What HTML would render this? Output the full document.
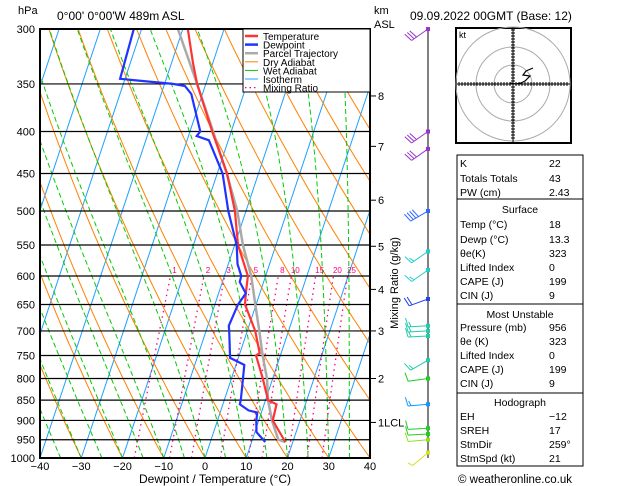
<!DOCTYPE html>
<html><head><meta charset="utf-8">
<style>
body{margin:0;background:#fff;}
svg{display:block;font-family:"Liberation Sans",sans-serif;}
.t{font-size:11px;fill:#000;}
</style></head>
<body>
<svg id="c" width="629" height="486" viewBox="0 0 629 486">
<defs><clipPath id="pc"><rect x="40" y="29" width="330" height="429"/></clipPath></defs>
<g id="bg" clip-path="url(#pc)"></g>
<g id="iso"></g>
<g id="prof" clip-path="url(#pc)"></g>
<rect x="40" y="29" width="330" height="429" fill="none" stroke="#000" stroke-width="2"/>
<g id="axes"></g>
<g id="legend"></g>
<g id="wind"></g>
<g id="hodo"></g>
<g id="tbl"></g>
</svg>
<script>
const presLevels=[300,350,400,450,500,550,600,650,700,750,800,850,900,950,1000];
const tempTicks=[-40,-30,-20,-10,0,10,20,30,40];
const tempP=[956,900,860,850,800,750,745,700,650,630,600,550,500,450,400,350,330,300];
const tempT=[18.2,13.4,13.0,10.6,7.6,4.1,4.8,1.9,-2.7,-3.4,-4.3,-9.2,-12.7,-17.6,-24.6,-32.1,-34.8,-38.8];
const dewP=[956,930,900,880,875,860,850,800,770,755,700,690,650,630,610,600,580,550,500,450,410,405,400,360,352,350,345,300];
const dewT=[13.3,10.4,9.4,9.0,6.7,4.1,4.0,2.8,2.0,-2.0,-4.4,-4.9,-4.4,-3.4,-5.8,-5.9,-7.8,-9.5,-14.3,-18.7,-24.7,-28,-27.5,-32.7,-34.9,-38,-51.2,-51.9];
const parP=[956,950,900,850,800,750,700,650,600,550,500,450,400,350,300];
const parT=[18.2,16.3,13.2,10.6,8.6,5.7,2.9,-0.2,-3.5,-8,-12.1,-17.7,-24.4,-32.1,-41.2];
const mixRatios=[1,2,3,5,8,10,15,20,25];
const mixLabels=["1","2","3","5","8","10","15","20","25"];
const kmLabels=["8","7","6","5","4","3","2","1"];
const kmP=[362,417,485,552,623,700,800,905];
const windP=[300,400,420,500,560,590,640,690,700,710,760,800,860,920,935,950,985];
const windAng=[35,35,35,30,35,35,20,3,3,3,30,8,5,3,3,5,40];
const windSpd=[30,30,30,40,15,15,20,15,15,15,15,10,15,10,10,10,5];
const windCol=["#9933cc","#9933cc","#9933cc","#3366ff","#22cccc","#22cccc","#2244ee","#22ccaa","#22ccaa","#22ccaa","#22ccaa","#22cc22","#1199ff","#22cc22","#22cc22","#99dd22","#dddd22"];

const NS="http://www.w3.org/2000/svg";
function el(tag,attrs,parent){const e=document.createElementNS(NS,tag);for(const k in attrs)e.setAttribute(k,attrs[k]);parent.appendChild(e);return e;}
function yP(p){return 458-356.3*Math.log(1000/p);}
function xT(T,p){return 40+(T+40)*4.125+0.333*(458-yP(p));}
function pathFrom(ps,ts){return ps.map((p,i)=>(i?'L':'M')+xT(ts[i],p).toFixed(1)+','+yP(p).toFixed(1)).join('');}
const bg=document.getElementById('bg');
for(let T=-140;T<=40;T+=10){
  const l=el('line',{x1:xT(T,1000),y1:yP(1000),x2:xT(T,300),y2:yP(300),stroke:'#1ea0ff','stroke-width':1},bg);
  
}
for(let th=-40;th<=230;th+=10){
  const ps=[],ts=[];for(let p=1000;p>=300;p-=10){ps.push(p);ts.push((th+273.15)*Math.pow(p/1000,0.286)-273.15);}
  const l=el('path',{d:pathFrom(ps,ts),fill:'none',stroke:'#ff8000','stroke-width':1},bg);
  
}
function es(T){return 6.112*Math.exp(17.67*T/(T+243.5));}
for(let T0=-45;T0<=60;T0+=5){
  const ps=[],ts=[];let T=T0+273.15,lp=Math.log(1000);const dl=-0.01;
  for(let i=0;i<=121;i++){const p=Math.exp(lp);ps.push(p);ts.push(T-273.15);
    const e=es(T-273.15),rs=0.622*e/(p-e);
    const g=(287*T+2.5e6*rs)/(1004+2.5e6*2.5e6*rs*0.622/(287*T*T));
    T+=g*dl;lp+=dl;if(p<300)break;}
  const l=el('path',{d:pathFrom(ps,ts),fill:'none',stroke:'#00cc00','stroke-width':1,'stroke-dasharray':'5,3'},bg);
  
}
function tMix(w,p){const e=w*p/(622+w);const a=Math.log(e/6.112);return 243.5*a/(17.67-a);}
mixRatios.forEach((w,i)=>{
  const ps=[],ts=[];for(let p=1000;p>=600;p-=10){ps.push(p);ts.push(tMix(w,p));}
  const l=el('path',{d:pathFrom(ps,ts),fill:'none',stroke:'#ff0080','stroke-width':1.3,'stroke-dasharray':'1.5,4'},bg);
  
  const tx=el('text',{x:xT(tMix(w,600),600)+4,y:273,'font-size':8,fill:'#ff0080','text-anchor':'middle'},document.getElementById('axes'));
  tx.textContent=mixLabels[i];
  
});
const iso=document.getElementById('iso'),ax=document.getElementById('axes');
presLevels.forEach(p=>{
  const l=el('line',{x1:40,x2:370,y1:yP(p),y2:yP(p),stroke:'#000','stroke-width':1.2},iso);
  
  const t=el('text',{x:35,y:yP(p)+4,'text-anchor':'end',class:'t'},ax);t.textContent=p;
  
});
tempTicks.forEach(T=>{
  const t=el('text',{x:xT(T,1000),y:470,'text-anchor':'middle',class:'t','font-size':12},ax);t.textContent=(T<0?'\u2212'+(-T):T);
  
});
kmLabels.forEach((k,i)=>{
  const y=yP(kmP[i]);
  el('line',{x1:370,x2:376,y1:y,y2:y,stroke:'#000'},ax);
  const t=el('text',{x:378,y:y+4,class:'t'},ax);t.textContent=k+(k==='1'?'LCL':'');
  
});
const prof=document.getElementById('prof');
const pp=el('path',{d:pathFrom(parP,parT),fill:'none',stroke:'#aaa','stroke-width':2.5},prof);

const tp=el('path',{d:pathFrom(tempP,tempT),fill:'none',stroke:'#ff3333','stroke-width':2.2},prof);

const dp=el('path',{d:pathFrom(dewP,dewT),fill:'none',stroke:'#2233ff','stroke-width':2.2},prof);

// winds
const wg=document.getElementById('wind');
el('line',{x1:428,x2:428,y1:29,y2:458,stroke:'#000'},wg);
windP.forEach((p,i)=>{
  const y=yP(p),x=428,a=windAng[i]*Math.PI/180,L=20;
  const ux=-Math.cos(a),uy=Math.sin(a);
  const sx=x+ux*L,sy=y+uy*L;
  const px=-Math.sin(a),py=-Math.cos(a);
  const g=el('g',{stroke:windCol[i],'stroke-width':1,fill:'none'},wg);
  
  el('line',{x1:x,y1:y,x2:sx,y2:sy},g);
  el('rect',{x:x-2,y:y-2,width:4,height:4,fill:windCol[i],stroke:'none'},g);
  let n=Math.round(windSpd[i]/5),k=0;
  while(n>0){const len=n>=2?9:5;const bx=sx-ux*k*3,by=sy-uy*k*3;
    el('line',{x1:bx,y1:by,x2:bx+px*len+ux*2,y2:by+py*len+uy*2},g);n-=(n>=2?2:1);k++;}
});
const hg=document.getElementById('hodo');
const cx=513,cy=84;
el('rect',{x:456,y:28,width:115,height:115,fill:'none',stroke:'#000','stroke-width':2},hg);
[19,37,57].forEach(r=>el('circle',{cx,cy,r,fill:'none',stroke:'#aaa'},hg));
el('line',{x1:457,x2:570,y1:cy,y2:cy,stroke:'#000'},hg);
el('line',{x1:cx,x2:cx,y1:29,y2:142,stroke:'#000'},hg);
for(let d=-54;d<=54;d+=3){el('line',{x1:cx+d,x2:cx+d,y1:cy-2,y2:cy+2,stroke:'#000'},hg);el('line',{x1:cx-2,x2:cx+2,y1:cy+d,y2:cy+d,stroke:'#000'},hg);}
el('polyline',{points:'510,83 516,84 521,83 525,81 530,76 523,75 526,71 533,68',fill:'none',stroke:'#000','stroke-width':1.2},hg);
let kt=el('text',{x:459,y:38,'font-size':9},hg);kt.textContent='kt';
const lg=document.getElementById('legend');
el('rect',{x:243,y:29,width:127,height:63,fill:'#fff',stroke:'#000'},lg);
const legNames=['Temperature','Dewpoint','Parcel Trajectory','Dry Adiabat','Wet Adiabat','Isotherm','Mixing Ratio'];
const legCols=['#ff3333','#2233ff','#aaa','#ff8000','#00cc00','#1ea0ff','#ff0080'];
const legW=[2.5,2.5,2.5,1,1,1,1.3];
legNames.forEach((n,i)=>{const y=36+i*8.6;
  el('line',{x1:245,x2:258,y1:y,y2:y,stroke:legCols[i],'stroke-width':legW[i],'stroke-dasharray':i==6?'1.5,3':'none'},lg);
  const t=el('text',{x:263,y:y+4,'font-size':10},lg);t.textContent=n;
  });
function txt(x,y,s,sz,anchor,parent,name){const t=el('text',{x,y,'font-size':sz,'text-anchor':anchor||'start'},parent||ax);t.textContent=s;return t;}
txt(18,14,'hPa',11,'start',ax,'y-axis-unit');
txt(57,20,"0°00'  0°00'W  489m  ASL",12,'start',ax,'location-title');
txt(374,14,'km',11,'start',ax,'km-unit');
txt(374,28,'ASL',11,'start',ax,'asl-unit');
txt(410,20,'09.09.2022  00GMT  (Base: 12)',12,'start',ax,'date-title');
txt(215,483,'Dewpoint / Temperature (°C)',12,'middle',ax,'x-axis-title');
const mr=txt(0,0,'Mixing Ratio (g/kg)',11,'middle',ax,'mixing-ratio-axis-title');mr.setAttribute('transform','translate(398,283) rotate(-90)');
const tb=document.getElementById('tbl');
function box(y1,y2){el('rect',{x:457,y:y1,width:126,height:y2-y1,fill:'none',stroke:'#000'},tb);}
box(155,199);box(199,304);box(304,393);box(393,466);
const rows=[['K','22',167],['Totals Totals','43',182],['PW (cm)','2.43',196],
['Temp (°C)','18',228],['Dewp (°C)','13.3',243],['θe(K)','323',257],['Lifted Index','0',271],['CAPE (J)','199',285],['CIN (J)','9',299],
['Pressure (mb)','956',331],['θe (K)','323',345],['Lifted Index','0',359],['CAPE (J)','199',373],['CIN (J)','9',387],
['EH','\u221212',420],['SREH','17',434],['StmDir','259°',448],['StmSpd (kt)','21',462]];
rows.forEach(r=>{txt(460,r[2],r[0],10.5,'start',tb,'table-label');txt(549,r[2],r[1],10.5,'start',tb,'table-value');});
txt(520,213,'Surface',10.5,'middle',tb,'surface-heading');
txt(520,318,'Most Unstable',10.5,'middle',tb,'most-unstable-heading');
txt(520,406,'Hodograph',10.5,'middle',tb,'hodograph-heading');
txt(515,483,'© weatheronline.co.uk',11.5,'middle',tb,'copyright');
</script>
</body></html>
